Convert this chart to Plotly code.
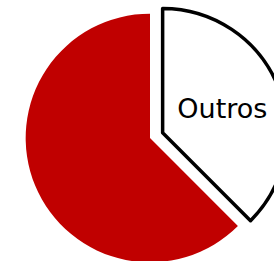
import plotly.graph_objects as go

labels = ["Outros", "Principal"]
values = [37.5, 62.5]
slice_text = ["Outros", ""]
colors = ["#FFFFFF", "#C00000"]
line_colors = ["#000000", "#C00000"]
line_widths = [3.5, 0]
pulls = [0.11, 0]

fig = go.Figure(go.Pie(
    labels=labels,
    values=values,
    text=slice_text,
    textinfo="text",
    textposition="inside",
    insidetextorientation="horizontal",
    sort=False,
    direction="clockwise",
    rotation=0,
    pull=pulls,
    marker=dict(colors=colors, line=dict(color=line_colors, width=line_widths)),
    insidetextfont=dict(family="DejaVu Sans", size=27, color="black"),
    hoverinfo="none",
    showlegend=False,
))

fig.update_layout(
    width=300,
    height=276,
    margin=dict(l=0, r=0, t=0, b=0),
    paper_bgcolor="white",
    plot_bgcolor="white",
    showlegend=False,
)

fig.write_html(
    "out.html",
    config={"displayModeBar": False, "staticPlot": True},
    post_script="document.body.style.margin='0';",
)
